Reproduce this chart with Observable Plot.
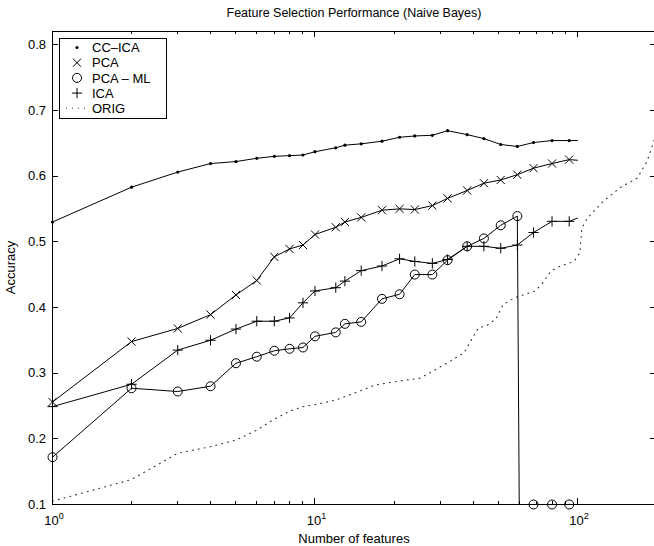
<!DOCTYPE html>
<html><head><meta charset="utf-8">
<script src="https://cdn.jsdelivr.net/npm/d3@7"></script>
<script src="https://cdn.jsdelivr.net/npm/@observablehq/plot@0.6"></script>
<style>body{margin:0;background:#fff} svg{display:block}</style>
</head><body><div id="chart"></div>
<script>
// ---- data ----
const features = [1,2,3,4,5,6,7,8,9,10,12,13,15,18,21,24,28,32,38,44,51,59,68,80,93,100];
const ccica = [0.530,0.583,0.606,0.619,0.622,0.627,0.630,0.631,0.632,0.637,0.643,0.647,0.649,0.653,0.659,0.661,0.662,0.669,0.663,0.657,0.648,0.645,0.651,0.654,0.654,0.654];
const pca   = [0.256,0.348,0.368,0.389,0.419,0.441,0.477,0.489,0.495,0.511,0.522,0.530,0.537,0.548,0.550,0.549,0.555,0.566,0.578,0.589,0.594,0.602,0.612,0.619,0.625,0.624];
const ica   = [0.249,0.283,0.335,0.350,0.367,0.379,0.379,0.384,0.407,0.425,0.430,0.440,0.456,0.463,0.474,0.470,0.467,0.473,0.493,0.493,0.490,0.495,0.514,0.531,0.531,0.536];
const pcamlFeatures = [1,2,3,4,5,6,7,8,9,10,12,13,15,18,21,24,28,32,38,44,51,59,60,68,80,93,100];
const pcaml = [0.172,0.277,0.272,0.280,0.315,0.325,0.334,0.337,0.339,0.356,0.362,0.375,0.378,0.413,0.420,0.450,0.450,0.472,0.493,0.505,0.525,0.539,0.1,0.1,0.1,0.1,0.1];
const unmarked = [60, 100];
const origFeatures = [1,2,3,4,5,6,7,8,9,10,12,14,17,21,25,27,32,37,40,42,45,49,52,57,61,69,74,79,86,97,102,104,109,125,145,169,184,195,200];
const orig = [0.105,0.138,0.178,0.188,0.198,0.213,0.230,0.242,0.249,0.252,0.259,0.269,0.282,0.288,0.292,0.299,0.316,0.331,0.355,0.369,0.372,0.383,0.404,0.414,0.418,0.425,0.438,0.455,0.463,0.470,0.483,0.521,0.536,0.561,0.582,0.597,0.622,0.652,0.665];
const yTicks = [0.1,0.2,0.3,0.4,0.5,0.6,0.7,0.8];
const xMajor = [1,10,100];
const xMinor = [2,3,4,5,6,7,8,9,20,30,40,50,60,70,80,90,200];
const xExponents = ["0","1","2"];
const legendLabels = ["CC\u2013ICA","PCA","PCA \u2013 ML","ICA","ORIG"];
const titleText = "Feature Selection Performance (Naive Bayes)";
const xLabel = "Number of features";
const yLabel = "Accuracy";

const rows = (xs, vs) => xs.map((n, i) => ({n, v: vs[i]}));
const ccRows = rows(features, ccica);
const pcaRows = rows(features, pca);
const icaRows = rows(features, ica);
const mlRows = rows(pcamlFeatures, pcaml);
const origRows = rows(origFeatures, orig);
const marked = d => !unmarked.includes(d.n);

const FONT = "'Liberation Sans', Arial, Helvetica, sans-serif";
const R_TIMES = 3.8, R_PLUS = 3.4, R_CIRCLE = 4.5;

const chart = Plot.plot({
  width: 654, height: 546,
  marginTop: 31, marginBottom: 42, marginLeft: 52, marginRight: -2,
  style: {background: "white", fontFamily: FONT},
  x: {type: "log", domain: [1, 200], axis: null},
  y: {domain: [0.1, 0.82], axis: null},
  marks: [
    Plot.line(origRows, {x: "n", y: "v", stroke: "#333", strokeWidth: 1.1, strokeDasharray: "1 5"}),
    Plot.line(ccRows, {x: "n", y: "v", stroke: "black", strokeWidth: 1}),
    Plot.line(pcaRows, {x: "n", y: "v", stroke: "black", strokeWidth: 1}),
    Plot.line(icaRows, {x: "n", y: "v", stroke: "black", strokeWidth: 1}),
    Plot.line(mlRows, {x: "n", y: "v", stroke: "black", strokeWidth: 1}),
    Plot.dot(ccRows.filter(marked), {x: "n", y: "v", r: 1.6, fill: "black", stroke: "none"}),
    Plot.dot(pcaRows.filter(marked), {x: "n", y: "v", symbol: "times", r: R_TIMES, stroke: "black", fill: "none", strokeWidth: 1}),
    Plot.dot(mlRows.filter(marked), {x: "n", y: "v", symbol: "circle", r: R_CIRCLE, stroke: "black", fill: "none", strokeWidth: 1}),
    Plot.dot(icaRows.filter(marked), {x: "n", y: "v", symbol: "plus", r: R_PLUS, stroke: "black", fill: "none", strokeWidth: 1}),
    Plot.frame({stroke: "black", strokeWidth: 1})
  ]
});
document.getElementById("chart").appendChild(chart);

// ---- axes, ticks, labels, legend (positions from the plot's own scales) ----
const sx = chart.scale("x"), sy = chart.scale("y");
const X0 = sx.apply(1), X1 = sx.apply(200);
const Y0 = sy.apply(0.1), Y1 = sy.apply(0.82);
const svg = d3.select(chart);
const ticks = svg.append("g").attr("stroke", "black").attr("stroke-width", 1);
yTicks.forEach(v => {
  const y = Math.round(sy.apply(v)) + 0.5;
  ticks.append("line").attr("x1", X0).attr("x2", X0 + 6).attr("y1", y).attr("y2", y);
  ticks.append("line").attr("x1", X1).attr("x2", X1 - 6).attr("y1", y).attr("y2", y);
});
const xt = (v, len) => {
  const x = Math.round(sx.apply(v)) + 0.5;
  ticks.append("line").attr("x1", x).attr("x2", x).attr("y1", Y0).attr("y2", Y0 - len);
  ticks.append("line").attr("x1", x).attr("x2", x).attr("y1", Y1).attr("y2", Y1 + len);
};
xMajor.forEach(v => xt(v, 6));
xMinor.forEach(v => xt(v, 3));

const labels = svg.append("g").attr("font-family", FONT).attr("fill", "black").attr("stroke", "none");
yTicks.forEach(v => {
  labels.append("text").attr("x", X0 - 6).attr("y", sy.apply(v)).attr("dy", "0.36em")
    .attr("text-anchor", "end").attr("font-size", 13).text(v.toFixed(1));
});
xMajor.forEach((v, i) => {
  const t = labels.append("text").attr("x", sx.apply(v) + 2).attr("y", Y0 + 21)
    .attr("text-anchor", "middle").attr("font-size", 13);
  t.append("tspan").text("10");
  t.append("tspan").attr("dy", -6).attr("font-size", 9).text(xExponents[i]);
});
const cx = (X0 + X1) / 2;
labels.append("text").attr("x", cx).attr("y", 17).attr("text-anchor", "middle").attr("font-size", 12.5).text(titleText);
labels.append("text").attr("x", cx).attr("y", 543).attr("text-anchor", "middle").attr("font-size", 13).text(xLabel);
labels.append("text").attr("transform", `translate(15,${(Y0 + Y1) / 2}) rotate(-90)`).attr("text-anchor", "middle").attr("font-size", 13).text(yLabel);

// legend
const lg = svg.append("g").attr("font-family", FONT);
lg.append("rect").attr("x", 59.5).attr("y", 38.5).attr("width", 107).attr("height", 80)
  .attr("fill", "white").attr("stroke", "black").attr("stroke-width", 1);
const ly = i => 47.5 + i * 15.2;
const symSize = r => r * r * Math.PI;
lg.append("circle").attr("cx", 77).attr("cy", ly(0)).attr("r", 1.6).attr("fill", "black");
lg.append("path").attr("transform", `translate(77,${ly(1)})`).attr("d", d3.symbol(d3.symbolTimes, symSize(R_TIMES))()).attr("stroke", "black").attr("fill", "none");
lg.append("circle").attr("cx", 77).attr("cy", ly(2)).attr("r", R_CIRCLE).attr("stroke", "black").attr("fill", "none");
lg.append("path").attr("transform", `translate(77,${ly(3)})`).attr("d", d3.symbol(d3.symbolPlus || d3.symbolCross, symSize(R_PLUS))()).attr("stroke", "black").attr("fill", "none");
lg.append("line").attr("x1", 66).attr("x2", 89).attr("y1", ly(4)).attr("y2", ly(4)).attr("stroke", "#333").attr("stroke-width", 1.1).attr("stroke-dasharray", "1 5");
legendLabels.forEach((s, i) => {
  lg.append("text").attr("x", 92).attr("y", ly(i)).attr("dy", "0.36em").attr("text-anchor", "start")
    .attr("font-size", 13).attr("fill", "black").text(s);
});
</script>
</body></html>
